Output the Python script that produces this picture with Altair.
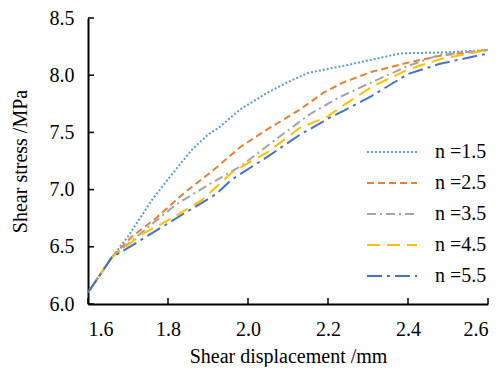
import altair as alt
import pandas as pd

series_names = ["n =1.5", "n =2.5", "n =3.5", "n =4.5", "n =5.5"]
colors = ["#5B9BD5", "#ED7D31", "#A5A5A5", "#FFC000", "#4472C4"]
dashes = [[2, 2], [7, 4], [9, 4, 2, 4], [13, 7], [15, 5, 3, 5]]

x_n15 = [1.60, 1.66, 1.70, 1.76, 1.80, 1.86, 1.90, 1.93, 1.98, 2.05, 2.10, 2.15, 2.25, 2.38, 2.50, 2.60]
y_n15 = [6.10, 6.41, 6.59, 6.91, 7.09, 7.35, 7.48, 7.55, 7.70, 7.85, 7.94, 8.02, 8.09, 8.19, 8.20, 8.22]

x_n25 = [1.60, 1.66, 1.71, 1.77, 1.84, 1.91, 1.98, 2.05, 2.13, 2.19, 2.24, 2.31, 2.40, 2.48, 2.60]
y_n25 = [6.10, 6.41, 6.59, 6.75, 6.97, 7.16, 7.37, 7.53, 7.70, 7.85, 7.94, 8.03, 8.11, 8.17, 8.22]

x_n35 = [1.60, 1.66, 1.75, 1.82, 1.91, 1.98, 2.07, 2.155, 2.23, 2.31, 2.40, 2.48, 2.60]
y_n35 = [6.10, 6.41, 6.67, 6.87, 7.06, 7.20, 7.44, 7.66, 7.81, 7.94, 8.08, 8.18, 8.22]

x_n45 = [1.60, 1.66, 1.735, 1.81, 1.885, 1.96, 2.05, 2.13, 2.20, 2.24, 2.31, 2.40, 2.48, 2.60]
y_n45 = [6.10, 6.41, 6.61, 6.75, 6.91, 7.15, 7.33, 7.54, 7.64, 7.74, 7.90, 8.05, 8.14, 8.22]

x_n55 = [1.60, 1.66, 1.70, 1.76, 1.835, 1.92, 1.96, 2.05, 2.13, 2.21, 2.24, 2.31, 2.40, 2.48, 2.60]
y_n55 = [6.10, 6.41, 6.49, 6.62, 6.78, 6.96, 7.09, 7.29, 7.48, 7.64, 7.69, 7.82, 8.01, 8.10, 8.19]

x_ticks = [1.6, 1.8, 2.0, 2.2, 2.4, 2.6]
y_ticks = [6.0, 6.5, 7.0, 7.5, 8.0, 8.5]

rows = []
for name, xs, ys in zip(series_names,
                        [x_n15, x_n25, x_n35, x_n45, x_n55],
                        [y_n15, y_n25, y_n35, y_n45, y_n55]):
    for i, (a, b) in enumerate(zip(xs, ys)):
        rows.append({"series": name, "x": a, "y": b, "order": i})
df = pd.DataFrame(rows)

FONT = "Liberation Serif"
H = 286

xscale = alt.Scale(domain=[1.6, 2.6], nice=False, zero=False)
yscale = alt.Scale(domain=[6.0, 8.5], nice=False, zero=False)

lines = alt.Chart(df).mark_line(strokeWidth=2, clip=True).encode(
    x=alt.X("x:Q", scale=xscale,
            axis=alt.Axis(title="Shear displacement /mm", values=x_ticks, format=".1f",
                          grid=False, tickSize=0, labelPadding=15, titlePadding=7)),
    y=alt.Y("y:Q", scale=yscale,
            axis=alt.Axis(title="Shear stress /MPa", values=y_ticks, format=".1f",
                          grid=False, tickSize=0, labelPadding=14, titlePadding=19)),
    color=alt.Color("series:N", scale=alt.Scale(domain=series_names, range=colors),
                    legend=alt.Legend(title=None, orient="none", legendX=294, legendY=124,
                                      symbolType="M-5,0H5", symbolSize=100,
                                      symbolStrokeWidth=2, labelFontSize=20,
                                      labelFont=FONT, labelColor="black",
                                      labelOffset=33, rowPadding=11, padding=0)),
    strokeDash=alt.StrokeDash("series:N", scale=alt.Scale(domain=series_names, range=dashes),
                              legend=None),
    order="order:Q",
)

ytick_df = pd.DataFrame({"v": y_ticks})
xtick_df = pd.DataFrame({"v": x_ticks})

yticks = alt.Chart(ytick_df).mark_rule(color="black", strokeWidth=1.5).encode(
    y=alt.Y("v:Q", scale=yscale), x=alt.value(0), x2=alt.value(6))
xticks = alt.Chart(xtick_df).mark_rule(color="black", strokeWidth=1.5).encode(
    x=alt.X("v:Q", scale=xscale), y=alt.value(H - 6), y2=alt.value(H))

chart = alt.layer(lines, yticks, xticks).properties(
    width=400, height=H,
    autosize=alt.AutoSizeParams(type="none"),
    padding={"left": 80, "top": 10, "right": 6, "bottom": 63},
).configure_view(stroke=None).configure_axis(
    domainColor="black", domainWidth=2, labelFont=FONT, titleFont=FONT,
    labelFontSize=20, titleFontSize=20, labelColor="black", titleColor="black",
    titleFontWeight="normal",
).configure_legend(symbolStrokeWidth=2)

chart.save("out.html", embed_options={"renderer": "svg", "actions": False})
